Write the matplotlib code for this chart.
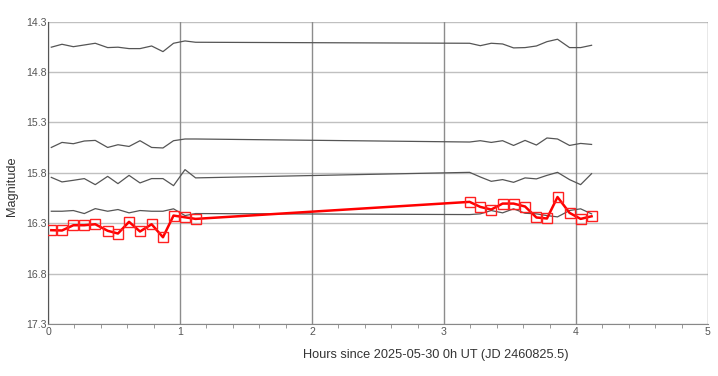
import matplotlib
matplotlib.use('Agg')
from matplotlib import pyplot as plt
from matplotlib.ticker import MultipleLocator

# 观测时间 (小时)
hours = [0.025, 0.106, 0.192, 0.275, 0.358, 0.452, 0.530, 0.614, 0.697, 0.785, 0.871, 0.951, 1.038, 1.118,
         3.194, 3.275, 3.358, 3.444, 3.527, 3.614, 3.700, 3.780, 3.860, 3.951, 4.035, 4.118]

# 目标星星等
target_mag = [16.369, 16.372, 16.320, 16.320, 16.310, 16.375, 16.402, 16.286, 16.382, 16.310, 16.439, 16.224, 16.241, 16.257,
              16.088, 16.138, 16.164, 16.105, 16.105, 16.134, 16.243, 16.253, 16.040, 16.197, 16.257, 16.231]

# 比较星星等
comp1_mag = [14.553, 14.524, 14.548, 14.531, 14.514, 14.557, 14.553, 14.567, 14.567, 14.541, 14.597, 14.514, 14.491, 14.504,
             14.514, 14.538, 14.514, 14.521, 14.560, 14.557, 14.541, 14.498, 14.474, 14.557, 14.557, 14.534]
comp2_mag = [15.548, 15.498, 15.511, 15.484, 15.478, 15.548, 15.521, 15.538, 15.481, 15.548, 15.553, 15.481, 15.464, 15.464,
             15.494, 15.481, 15.498, 15.481, 15.528, 15.478, 15.524, 15.454, 15.464, 15.528, 15.508, 15.518]
comp3_mag = [15.845, 15.890, 15.874, 15.857, 15.917, 15.835, 15.907, 15.825, 15.900, 15.857, 15.857, 15.927, 15.768, 15.850,
             15.795, 15.841, 15.884, 15.867, 15.894, 15.850, 15.860, 15.825, 15.795, 15.867, 15.917, 15.808]
comp4_mag = [16.181, 16.181, 16.174, 16.204, 16.155, 16.181, 16.164, 16.197, 16.174, 16.181, 16.181, 16.157, 16.224, 16.204,
             16.214, 16.207, 16.174, 16.197, 16.157, 16.201, 16.207, 16.224, 16.237, 16.174, 16.157, 16.207]

y_ticks = [14.3, 14.8, 15.3, 15.8, 16.3, 16.8, 17.3]
x_ticks = [0, 1, 2, 3, 4, 5]

plt.rcParams['font.family'] = ['Liberation Sans', 'DejaVu Sans']

fig = plt.figure(figsize = (7.18, 3.76), dpi = 100)
ax = fig.add_axes([48 / 718, 1 - 324 / 376, 660 / 718, (324 - 21.7) / 376])

# 比较星
for comp in (comp1_mag, comp2_mag, comp3_mag, comp4_mag):
    ax.plot(hours, comp, color = '#555555', linewidth = 0.9, zorder = 3)

# 目标星
ax.plot(hours, target_mag, color = '#ff0000', linewidth = 1.8, marker = 's', markersize = 6.5,
        markerfacecolor = 'none', markeredgecolor = '#ff2020', markeredgewidth = 1.0, zorder = 4)

ax.set_xlim(0, 5)
ax.set_ylim(17.3, 14.3)
ax.set_xticks(x_ticks)
ax.set_yticks(y_ticks)
ax.set_yticklabels([f'{v:.1f}' for v in y_ticks])
ax.xaxis.set_minor_locator(MultipleLocator(0.2))

# 网格
for v in y_ticks:
    ax.axhline(v, color = '#c0c0c0', linewidth = 1.0, zorder = 1)
for v in x_ticks:
    ax.axvline(v, color = '#8c8c8c', linewidth = 1.0, zorder = 1)

ax.spines['top'].set_visible(False)
ax.spines['right'].set_visible(False)
ax.spines['left'].set_color('#555555')
ax.spines['bottom'].set_color('#888888')

ax.tick_params(axis = 'both', which = 'major', length = 0, labelsize = 7.6, colors = '#555555', pad = 1)
ax.tick_params(axis = 'x', which = 'minor', length = 3, color = '#888888')
ax.tick_params(axis = 'x', which = 'major', pad = 2)

ax.set_ylabel('Magnitude', fontsize = 9.2, color = '#333333')
ax.yaxis.set_label_coords(-0.046, 0.456)
fig.text(303 / 718, 1 - 355 / 376, 'Hours since 2025-05-30 0h UT (JD 2460825.5)',
         fontsize = 9.2, color = '#333333', ha = 'left', va = 'center')

plt.savefig('out.png', dpi = 100)
